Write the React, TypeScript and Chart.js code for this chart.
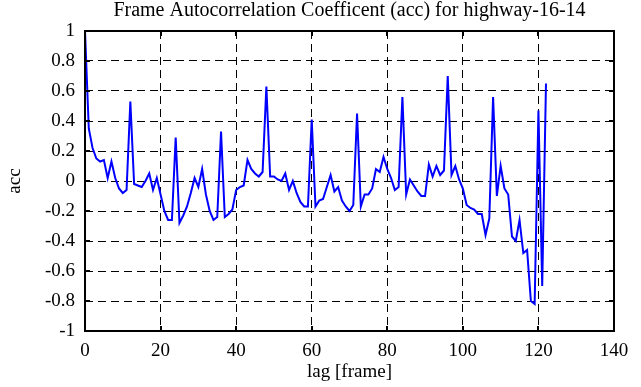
import { useEffect, useRef } from "react";
import { Chart, registerables } from "chart.js";

Chart.register(...registerables);

const lags = [
  0, 1, 2, 3, 4, 5, 6, 7, 8, 9, 10, 11, 12, 13, 14, 15, 16, 17, 18, 19,
  20, 21, 22, 23, 24, 25, 26, 27, 28, 29, 30, 31, 32, 33, 34, 35, 36, 37, 38, 39,
  40, 41, 42, 43, 44, 45, 46, 47, 48, 49, 50, 51, 52, 53, 54, 55, 56, 57, 58, 59,
  60, 61, 62, 63, 64, 65, 66, 67, 68, 69, 70, 71, 72, 73, 74, 75, 76, 77, 78, 79,
  80, 81, 82, 83, 84, 85, 86, 87, 88, 89, 90, 91, 92, 93, 94, 95, 96, 97, 98, 99,
  100, 101, 102, 103, 104, 105, 106, 107, 108, 109, 110, 111, 112, 113, 114, 115,
  116, 117, 118, 119, 120, 121, 122,
];

const acc = [
  1.0, 0.35, 0.22, 0.15, 0.13, 0.14, 0.02, 0.13, 0.02, -0.05,
  -0.08, -0.06, 0.53, -0.02, -0.03, -0.04, 0.0, 0.05, -0.06, 0.02,
  -0.09, -0.2, -0.26, -0.26, 0.29, -0.28, -0.23, -0.17, -0.08, 0.02,
  -0.04, 0.08, -0.09, -0.2, -0.26, -0.24, 0.33, -0.24, -0.22, -0.19,
  -0.06, -0.04, -0.03, 0.14, 0.08, 0.05, 0.03, 0.06, 0.63, 0.03,
  0.03, 0.01, 0.0, 0.05, -0.06, 0.0, -0.08, -0.14, -0.17, -0.17,
  0.41, -0.17, -0.13, -0.12, -0.04, 0.04, -0.07, -0.04, -0.13, -0.17,
  -0.2, -0.16, 0.45, -0.17, -0.09, -0.09, -0.05, 0.08, 0.06, 0.16,
  0.08, 0.02, -0.06, -0.04, 0.56, -0.09, 0.01, -0.03, -0.07, -0.1,
  -0.1, 0.11, 0.03, 0.1, 0.04, 0.07, 0.7, 0.04, 0.1, 0.01,
  -0.05, -0.16, -0.18, -0.19, -0.22, -0.22, -0.36, -0.25, 0.56, -0.1,
  0.1, -0.05, -0.09, -0.37, -0.4, -0.26, -0.48, -0.46, -0.8, -0.82,
  0.47, -0.7, 0.65,
];

const xTicks = [0, 20, 40, 60, 80, 100, 120, 140];
const yTicks = [-1, -0.8, -0.6, -0.4, -0.2, 0, 0.2, 0.4, 0.6, 0.8, 1];

const titleText = "Frame Autocorrelation Coefficent (acc) for highway-16-14";
const xLabel = "lag [frame]";
const yLabel = "acc";

const FONT = "'Liberation Serif', 'Times New Roman', serif";

const boxPlugin = {
  id: "matlabBox",
  afterDraw(chart: any) {
    const { ctx, chartArea: a, scales } = chart;
    ctx.save();
    ctx.strokeStyle = "#000";
    ctx.lineWidth = 2;
    const tl = 5;
    ctx.beginPath();
    for (const v of xTicks) {
      const x = Math.round(scales.x.getPixelForValue(v));
      ctx.moveTo(x, a.bottom);
      ctx.lineTo(x, a.bottom - tl);
      ctx.moveTo(x, a.top);
      ctx.lineTo(x, a.top + tl);
    }
    for (const v of yTicks) {
      const y = Math.round(scales.y.getPixelForValue(v));
      ctx.moveTo(a.left, y);
      ctx.lineTo(a.left + tl, y);
      ctx.moveTo(a.right, y);
      ctx.lineTo(a.right - tl, y);
    }
    ctx.stroke();
    ctx.strokeRect(a.left, a.top, a.right - a.left, a.bottom - a.top);
    ctx.fillStyle = "#000";
    ctx.font = `20px ${FONT}`;
    ctx.textAlign = "center";
    ctx.textBaseline = "alphabetic";
    ctx.fillText(titleText, (a.left + a.right) / 2, 16);
    ctx.restore();
  },
};

export default function App() {
  const ref = useRef<HTMLCanvasElement>(null);
  useEffect(() => {
    if (!ref.current) return;
    const chart = new Chart(ref.current, {
      type: "line",
      data: {
        labels: lags,
        datasets: [
          {
            label: yLabel,
            data: acc,
            borderColor: "#0000ff",
            borderWidth: 2,
            pointRadius: 0,
            tension: 0,
            fill: false,
          },
        ],
      },
      options: {
        animation: false,
        responsive: true,
        maintainAspectRatio: false,
        layout: { padding: { top: 31, right: 27, left: 0, bottom: 0 } },
        plugins: {
          legend: { display: false },
          title: { display: false },
          tooltip: { enabled: false },
        },
        scales: {
          x: {
            type: "linear",
            min: 0,
            max: 140,
            afterFit: (s: any) => {
              s.height = 56;
            },
            afterBuildTicks: (s: any) => {
              s.ticks = xTicks.map((v) => ({ value: v }));
            },
            grid: {
              color: "#000",
              lineWidth: 1,
              drawTicks: false,
            },
            border: { display: false, dash: [8, 5] },
            ticks: {
              color: "#000",
              font: { family: FONT, size: 19 },
              padding: 9,
              maxRotation: 0,
              autoSkip: false,
            },
            title: {
              display: true,
              text: xLabel,
              color: "#000",
              font: { family: FONT, size: 19 },
              padding: { top: 0, bottom: 4 },
            },
          },
          y: {
            type: "linear",
            min: -1,
            max: 1,
            afterFit: (s: any) => {
              s.width = 85;
            },
            afterBuildTicks: (s: any) => {
              s.ticks = yTicks.map((v) => ({ value: v }));
            },
            grid: {
              color: "#000",
              lineWidth: 1,
              drawTicks: false,
            },
            border: { display: false, dash: [8, 5] },
            ticks: {
              color: "#000",
              font: { family: FONT, size: 19 },
              padding: 10,
              autoSkip: false,
              callback: (v: any) => String(Number(Number(v).toFixed(1))),
            },
            title: {
              display: true,
              text: yLabel,
              color: "#000",
              font: { family: FONT, size: 19 },
              padding: { top: 4, bottom: 0 },
            },
          },
        },
      },
      plugins: [boxPlugin],
    });
    return () => chart.destroy();
  }, []);
  return (
    <div style={{ position: "fixed", left: 0, top: 0, width: 641, height: 387, background: "#fff" }}>
      <canvas ref={ref} />
    </div>
  );
}
